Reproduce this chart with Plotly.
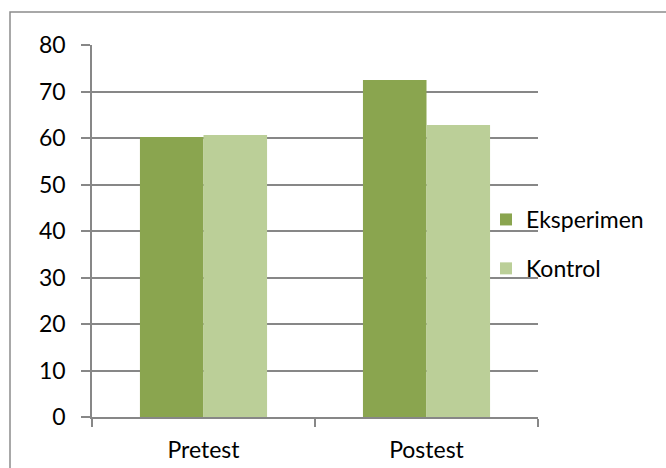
import plotly.graph_objects as go

categories = ["Pretest", "Postest"]
eksperimen = [60.2, 72.5]
kontrol = [60.65, 62.8]
series_names = ["Eksperimen", "Kontrol"]
y_ticks = [0, 10, 20, 30, 40, 50, 60, 70, 80]

W, H = 666, 468
L, R, T, B = 92, 538, 45, 417
FONT = "Lato, 'Open Sans', sans-serif"
GRID = "#878787"
FS = 23

fig = go.Figure()
fig.add_trace(go.Bar(x=categories, y=eksperimen, name=series_names[0],
                     marker=dict(color="#8AA54F", line=dict(width=0)),
                     legendgroup="a"))
fig.add_trace(go.Bar(x=categories, y=kontrol, name=series_names[1],
                     marker=dict(color="#BBCF98", line=dict(width=0)),
                     legendgroup="b"))

def px(x):
    return (x - L) / (R - L)

def py(y):
    return (B - y) / (B - T)

fig.update_layout(
    width=W, height=H,
    margin=dict(l=L, r=W - R, t=T, b=H - B, pad=0, autoexpand=False),
    paper_bgcolor="white", plot_bgcolor="white",
    barmode="group", bargap=0.43, bargroupgap=0,
    font=dict(family=FONT, size=FS, color="black"),
    showlegend=True,
    legend=dict(x=px(486), y=py(198), xanchor="left", yanchor="top",
                bgcolor="rgba(0,0,0,0)", traceorder="grouped",
                tracegroupgap=16, font=dict(size=FS)),
    xaxis=dict(showline=True, linecolor=GRID, linewidth=1.5,
               ticks="outside", tickson="boundaries", ticklen=8,
               tickcolor=GRID, tickwidth=1.5, showgrid=False,
               tickfont=dict(size=FS), ticklabelstandoff=12,
               automargin=False),
    yaxis=dict(range=[0, 80], tickvals=y_ticks, showgrid=True,
               gridcolor=GRID, gridwidth=1.5, showline=True,
               linecolor=GRID, linewidth=1.5, ticks="outside", ticklen=9,
               tickcolor=GRID, tickwidth=1.5, zeroline=False,
               tickfont=dict(size=FS), ticklabelstandoff=11,
               automargin=False),
    shapes=[dict(type="rect", xref="paper", yref="paper",
                 x0=px(10), x1=px(672), y0=py(474), y1=py(12),
                 line=dict(color="#8c8c8c", width=1.5), layer="below")],
)

fig.write_html("out.html")
